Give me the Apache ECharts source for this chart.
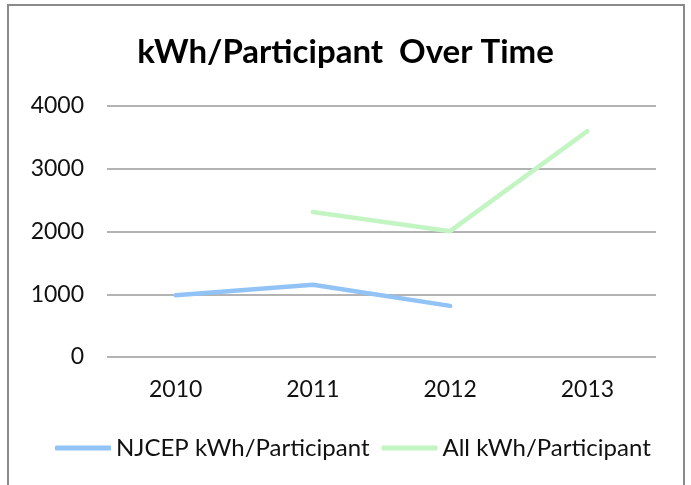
<!DOCTYPE html>
<html><head><meta charset="utf-8">
<script src="https://cdn.jsdelivr.net/npm/echarts@6/dist/echarts.min.js"></script>
<style>html,body{margin:0;padding:0;background:#fff}#c{width:691px;height:485px}</style>
</head><body><div id="c"></div>
<script>
const categories = ['2010', '2011', '2012', '2013'];
const njcep = [985, 1150, 815, null];
const allKwh = [null, 2310, 2005, 3600];
const yTicks = [0, 1000, 2000, 3000, 4000];
const seriesNames = ['NJCEP kWh/Participant', 'All kWh/Participant'];
const FONT = 'Lato, "Open Sans", sans-serif';

const chart = echarts.init(document.getElementById('c'), null, {renderer: 'canvas'});
chart.setOption({
  backgroundColor: '#fff',
  animation: false,
  title: {
    text: 'kWh/Participant  Over Time', left: 'center', top: 31,
    textStyle: {fontFamily: FONT, fontWeight: 'bold', fontSize: 33, color: '#000'}
  },
  graphic: [{
    type: 'rect', shape: {x: 8, y: 5, width: 676, height: 500},
    style: {fill: 'none', stroke: '#8a8a8a', lineWidth: 2}, silent: true
  }],
  legend: {
    top: 431, left: 50, itemWidth: 56, itemHeight: 5, itemGap: 12,
    icon: 'roundRect',
    textStyle: {fontFamily: FONT, fontSize: 24, color: '#111'},
    data: seriesNames
  },
  grid: {left: 107, right: 35, top: 106, bottom: 128},
  xAxis: {
    type: 'category', data: categories, boundaryGap: true,
    axisLine: {show: false}, axisTick: {show: false},
    axisLabel: {fontFamily: FONT, fontSize: 23, color: '#111', margin: 21}
  },
  yAxis: {
    type: 'value', min: yTicks[0], max: yTicks[yTicks.length - 1], interval: 1000,
    axisLine: {show: false}, axisTick: {show: false},
    axisLabel: {fontFamily: FONT, fontSize: 23, color: '#111', margin: 23, formatter: v => String(v)},
    splitLine: {lineStyle: {color: '#9a9a9a', width: 1.5}}
  },
  series: [
    {name: seriesNames[0], type: 'line', data: njcep, symbol: 'none', connectNulls: false,
     lineStyle: {color: '#92c3f7', width: 4.5, cap: 'round', join: 'round'}, itemStyle: {color: '#92c3f7'}},
    {name: seriesNames[1], type: 'line', data: allKwh, symbol: 'none', connectNulls: false,
     lineStyle: {color: '#c3f5c3', width: 4.5, cap: 'round', join: 'round'}, itemStyle: {color: '#c3f5c3'}}
  ]
});
</script></body></html>
